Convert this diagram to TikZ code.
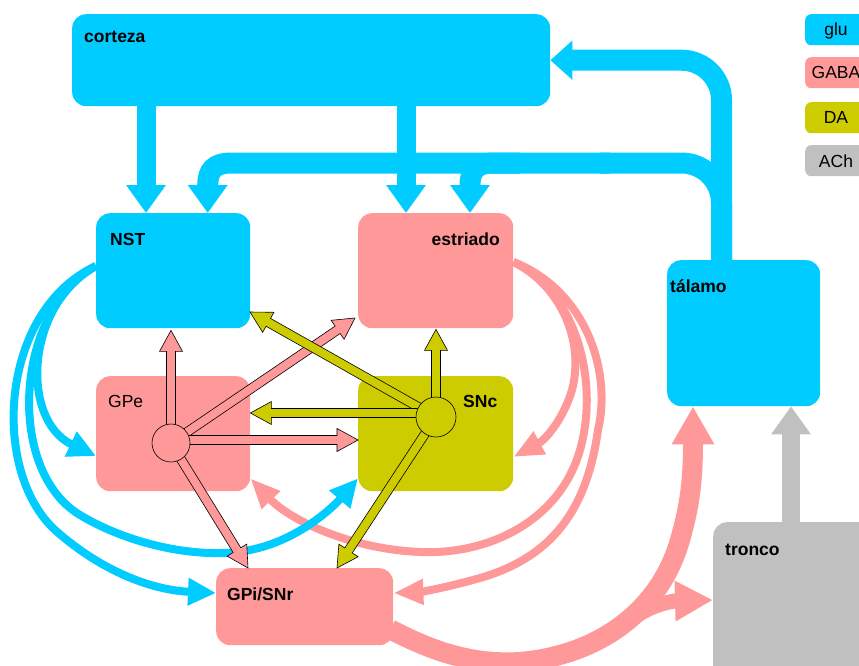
\documentclass[tikz,border=0pt]{standalone}
\usepackage{fontspec}
\setmainfont{Liberation Sans}
\usetikzlibrary{arrows.meta,calc}
\definecolor{cy}{HTML}{00CCFF}
\definecolor{pk}{HTML}{FF9999}
\definecolor{ol}{HTML}{CCCC00}
\definecolor{gr}{HTML}{C0C0C0}
% outlined arrow from #1 to #2 filled with #3
\newcommand\oarrow[3]{%
 \path let \p1=(#1), \p2=(#2), \n1={atan2(\y2-\y1,\x2-\x1)}, \n2={veclen(\x2-\x1,\y2-\y1)} in
   \pgfextra{\xdef\oang{\n1}\xdef\olen{\n2}\xdef\oxx{\x1}\xdef\oyy{\y1}};
 \draw[shift={(\oxx,\oyy)}, rotate=\oang, fill=#3, draw=black, line width=0.6pt]
   (0pt,-4.5pt) -- (\olen-21pt,-4.5pt) -- (\olen-21pt,-11.5pt) -- (\olen-0pt,0pt)
   -- (\olen-21pt,11.5pt) -- (\olen-21pt,4.5pt) -- (0pt,4.5pt) -- cycle;}
\begin{document}
\begin{tikzpicture}[x=1pt,y=-1pt,
  font=\fontsize{17.5}{21}\selectfont,
  box/.style={draw=none, rounded corners=14pt, inner sep=0pt, anchor=north west},
  lgbox/.style={draw=none, rounded corners=6pt, inner sep=0pt, anchor=north west,
     minimum width=62pt, minimum height=31pt},
  lab/.style={font=\fontsize{17.5}{21}\selectfont\bfseries, anchor=base west, inner sep=0pt},
  labr/.style={anchor=base west, inner sep=0pt},
  lg/.style={anchor=base, inner sep=0pt},
  cyarrow/.style={draw=cy, line width=19pt, -{Triangle[length=28pt,width=38pt]}},
  cyarc/.style={draw=cy, line width=8pt, -{Triangle[length=28pt,width=26pt]}},
  pkarc/.style={draw=pk, line width=8pt, -{Triangle[length=30pt,width=24pt]}},
]
\useasboundingbox (0,0) rectangle (859,666);
\clip (0,0) rectangle (859,666);

% boxes
\node[box, fill=cy, minimum width=478pt, minimum height=92pt] (cor) at (72,14) {};
\node[box, fill=cy, minimum width=154pt, minimum height=115pt] (nst) at (96,213) {};
\node[box, fill=pk, minimum width=155pt, minimum height=115pt] (estr) at (358,213) {};
\node[box, fill=pk, minimum width=154pt, minimum height=115pt] (gpe) at (96,376) {};
\node[box, fill=ol, minimum width=155pt, minimum height=115pt] (snc) at (358,376) {};
\node[box, fill=pk, minimum width=177pt, minimum height=77pt] (gpi) at (216,568) {};
\node[box, fill=cy, minimum width=153pt, minimum height=146pt] (tal) at (667,260) {};
\node[box, fill=gr, minimum width=175pt, minimum height=160pt] (tro) at (713,522) {};

% legend
\node[lgbox, fill=cy] (lglu) at (805,14) {};
\node[lgbox, fill=pk] (lgaba) at (805,57) {};
\node[lgbox, fill=ol] (lda) at (805,102) {};
\node[lgbox, fill=gr] (lach) at (805,145) {};
\node[lg] (tglu) at ($(lglu.north west)+(31,22)$) {glu};
\node[lg] (tgaba) at ($(lgaba.north west)+(31,22)$) {GABA};
\node[lg] (tda) at ($(lda.north west)+(31,22)$) {DA};
\node[lg] (tach) at ($(lach.north west)+(31,22)$) {ACh};

% helper coordinates
\coordinate (xa) at (146,0);
\coordinate (xb) at (406,0);
\coordinate (xt) at (721.5,0);
\coordinate (xn) at (207.7,0);
\coordinate (xe) at (470,0);
\coordinate (xp) at (693,0);
\coordinate (xg) at (791,0);
\coordinate (gpec) at (171,443);
\coordinate (sncc) at (436,417);

% thick cyan
\draw[cyarrow] (cor.south -| xa) -- (nst.north -| xa);
\draw[cyarrow] (cor.south -| xb) -- (estr.north -| xb);
\draw[draw=cy, line width=21pt, rounded corners=40pt, -{Triangle[length=22pt,width=38pt]}]
  (tal.north -| xt) -- (xt |- cor.east) -- (cor.east);
\draw[draw=cy, line width=21pt, rounded corners=40pt] (tal.north -| xt) -- (721.5,163) -- (600,163);
\draw[draw=cy, line width=21pt, -{Triangle[length=28pt,width=38pt]}]
  (610,163) -- (232,163) .. controls (214,163) and (207.7,170) .. (207.7,186) -- (nst.north -| xn);
\draw[draw=cy, line width=21pt, -{Triangle[length=28pt,width=38pt]}]
  (520,163) -- (494,163) .. controls (476,163) and (470,170) .. (470,186) -- (estr.north -| xe);

% pink arcs from estriado
\coordinate (es) at ($(estr.north east)+(0,49)$);
\draw[pkarc] (es) .. controls (560,285) and (585,340) .. (572,390)
  .. controls (563,420) and (545,440) .. ($(snc.north east)+(0,81)$);
\draw[pkarc] (es) .. controls (575,290) and (600,380) .. (580,450)
  .. controls (560,520) and (490,555) .. (420,552)
  .. controls (350,549) and (290,520) .. ($(gpe.south east)+(0,-13)$);
\draw[pkarc] (es) .. controls (585,290) and (612,370) .. (598,430)
  .. controls (588,500) and (560,555) .. (480,578)
  .. controls (445,588) and (420,592) .. ($(gpi.north east)+(0,25)$);

% cyan arcs from NST
\coordinate (ns) at ($(nst.north west)+(0,53)$);
\draw[cyarc] (ns) .. controls (25,305) and (20,420) .. ($(gpe.north west)+(0,80)$);
\draw[cyarc] (ns) .. controls (15,310) and (5,470) .. (80,515)
  .. controls (130,545) and (200,560) .. (250,550)
  .. controls (300,540) and (335,505) .. ($(snc.south west)+(0,-13)$);
\draw[cyarc] (ns) .. controls (0,310) and (-10,470) .. (55,530)
  .. controls (100,570) and (150,590) .. ($(gpi.north west)+(0,25)$);

% thick pink from GPi
\draw[draw=pk, line width=20pt, -{Triangle[length=38pt,width=40pt]}]
  ($(gpi.south east)+(-3,-16)$) .. controls (430,650) and (470,665) .. (520,662)
  .. controls (600,655) and (660,610) .. (680,540)
  .. controls (690,505) and (693,480) .. (tal.south -| xp);
\draw[draw=pk, line width=15pt, -{Triangle[length=38pt,width=38pt]}]
  (622,626) .. controls (640,612) and (655,604) .. (675,601) -- ($(tro.north west)+(0,78)$);

% grey
\draw[draw=gr, line width=18pt, -{Triangle[length=28pt,width=38pt]}] (tro.north -| xg) -- (tal.south -| xg);

% outlined arrows from GPe
\oarrow{gpec}{$(gpec|-nst.south)+(0,2)$}{pk}
\oarrow{gpec}{355,318}{pk}
\oarrow{171,440}{$(snc.west|-gpec)+(0,-3)$}{pk}
\oarrow{gpec}{$(gpi.north west)+(32,0)$}{pk}
% outlined arrows from SNc
\oarrow{sncc}{$(sncc|-estr.south)+(0,1)$}{ol}
\oarrow{sncc}{250,312}{ol}
\oarrow{436,413}{$(gpe.east|-sncc)+(0,-4)$}{ol}
\oarrow{sncc}{$(gpi.north west)+(121,0)$}{ol}

% circles
\node[circle, draw=black, fill=pk, line width=0.6pt, minimum size=38pt, inner sep=0pt] (gpecirc) at (gpec) {};
\node[circle, draw=black, fill=ol, line width=0.6pt, minimum size=40pt, inner sep=0pt] (snccirc) at (sncc) {};

% labels
\node[lab] (lcor) at (84,43) {corteza};
\node[lab] (lnst) at (110,245) {NST};
\node[lab, anchor=base east] (lestr) at (500,245) {estriado};
\node[labr] (lgpe) at (108,407) {GPe};
\node[lab] (lsnc) at (463,407) {SNc};
\node[lab] (lgpi) at (227,600) {GPi/SNr};
\node[lab] (ltal) at (670,292) {tálamo};
\node[lab] (ltro) at (725,555) {tronco};
\end{tikzpicture}
\end{document}
